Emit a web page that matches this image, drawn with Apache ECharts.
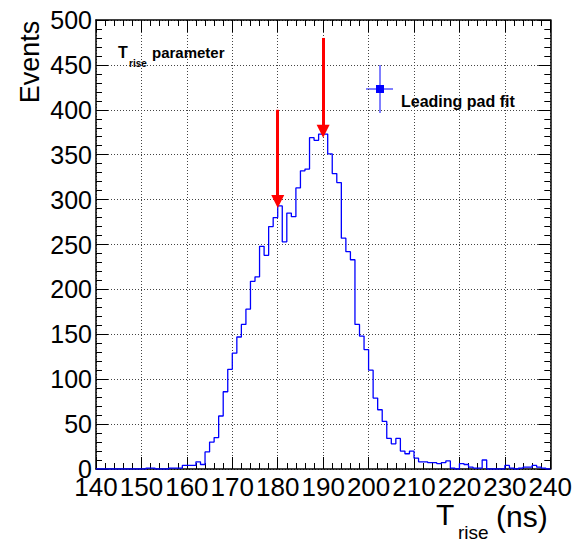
<!DOCTYPE html>
<html>
<head>
<meta charset="utf-8">
<script src="https://cdn.jsdelivr.net/npm/echarts@6/dist/echarts.min.js"></script>
<style>
html,body{margin:0;padding:0;background:#fff;}
#c{width:575px;height:542px;}
</style>
</head>
<body>
<div id="c"></div>
<script>
// ---- data ----
const binLow = 140;
const binWidth = 1;
const counts = [
  0,0,0,0,0,0,0,0,0,0,
  0,1,1,0,0,0,1,1,1,4,
  4,4,8,5,19,30,35,59,86,111,
  129,147,161,178,209,214,248,238,270,280,
  293,253,285,281,313,332,334,369,366,373,
  373,351,329,319,257,242,233,161,148,133,
  110,79,66,53,34,28,34,20,17,20,
  12,8,8,7,7,6,7,9,1,0,
  6,5,2,1,1,10,0,0,0,0,
  4,1,0,1,2,2,4,2,1,0
];
const arrowX = [180, 190];
const arrowTop = [400, 480];
const arrowTip = [298, 376];
const xTicks = [140,150,160,170,180,190,200,210,220,230,240];
const yTicks = [0,50,100,150,200,250,300,350,400,450,500];

const FONT = 'Liberation Sans, Arial, sans-serif';
const stepData = counts.map((c, i) => [binLow + i * binWidth, c]);
stepData.push([binLow + counts.length * binWidth, counts[counts.length - 1]]);

const chart = echarts.init(document.getElementById('c'), null, {renderer: 'svg'});

const gridLine = {show: true, lineStyle: {color: '#444', type: [1, 2], width: 1}};
const tickCommon = {show: true, inside: true, length: 12, lineStyle: {color: '#000', width: 1}};
const minorTick = {show: true, splitNumber: 5, length: 6, lineStyle: {color: '#000', width: 1}};

const markLines = arrowX.map((x, i) => ([
  {coord: [x, arrowTop[i]], symbol: 'none'},
  {coord: [x, arrowTip[i]], symbol: 'triangle'}
]));

chart.setOption({
  animation: false,
  backgroundColor: '#fff',
  grid: {left: 96, right: 23, top: 20, bottom: 73, containLabel: false},
  xAxis: [{
    type: 'value', min: xTicks[0], max: xTicks[xTicks.length - 1], interval: 10,
    position: 'bottom',
    axisLine: {show: true, onZero: false, lineStyle: {color: '#000', width: 1.5}},
    axisTick: tickCommon, minorTick: minorTick,
    splitLine: gridLine,
    axisLabel: {color: '#000', fontSize: 26, fontFamily: FONT, margin: 8, lineHeight: 20}
  }, {
    type: 'value', min: xTicks[0], max: xTicks[xTicks.length - 1], interval: 10,
    position: 'top',
    axisLine: {show: true, onZero: false, lineStyle: {color: '#000', width: 1.5}},
    axisTick: tickCommon, minorTick: minorTick,
    splitLine: {show: false}, axisLabel: {show: false}
  }],
  yAxis: [{
    type: 'value', min: yTicks[0], max: yTicks[yTicks.length - 1], interval: 50,
    position: 'left',
    axisLine: {show: true, onZero: false, lineStyle: {color: '#000', width: 1.5}},
    axisTick: tickCommon, minorTick: minorTick,
    splitLine: gridLine,
    axisLabel: {color: '#000', fontSize: 25, fontFamily: FONT, margin: 4, lineHeight: 16}
  }, {
    type: 'value', min: yTicks[0], max: yTicks[yTicks.length - 1], interval: 50,
    position: 'right',
    axisLine: {show: true, onZero: false, lineStyle: {color: '#000', width: 1.5}},
    axisTick: tickCommon, minorTick: minorTick,
    splitLine: {show: false}, axisLabel: {show: false}
  }],
  series: [{
    type: 'line',
    step: 'end',
    data: stepData,
    showSymbol: false,
    lineStyle: {color: '#0000ff', width: 1.3},
    z: 3,
    markLine: {
      silent: true,
      symbolSize: [13, 13],
      label: {show: false},
      lineStyle: {color: '#ff0000', width: 3, type: 'solid'},
      itemStyle: {color: '#ff0000'},
      data: markLines
    }
  }],
  graphic: [
    // y axis title
    {type: 'text', x: 30, y: 62, rotation: Math.PI / 2,
     style: {text: 'Events', font: '27px ' + FONT, fill: '#000', align: 'center', verticalAlign: 'middle'}},
    // x axis title
    {type: 'text', x: 436, y: 529,
     style: {text: 'T', font: '30px ' + FONT, fill: '#000', align: 'left', verticalAlign: 'bottom'}},
    {type: 'text', x: 458, y: 542,
     style: {text: 'rise', font: '19px ' + FONT, fill: '#000', align: 'left', verticalAlign: 'bottom'}},
    {type: 'text', x: 496, y: 531,
     style: {text: '(ns)', font: '30px ' + FONT, fill: '#000', align: 'left', verticalAlign: 'bottom'}},
    // pad title
    {type: 'text', x: 118, y: 60,
     style: {text: 'T', font: 'bold 16px ' + FONT, fill: '#000', align: 'left', verticalAlign: 'bottom'}},
    {type: 'text', x: 129, y: 68,
     style: {text: 'rise', font: 'bold 10px ' + FONT, fill: '#000', align: 'left', verticalAlign: 'bottom'}},
    {type: 'text', x: 152, y: 60,
     style: {text: 'parameter', font: 'bold 15px ' + FONT, fill: '#000', align: 'left', verticalAlign: 'bottom'}},
    // legend
    {type: 'line', shape: {x1: 366, y1: 89, x2: 393, y2: 89}, style: {stroke: '#0000ff', lineWidth: 1}},
    {type: 'line', shape: {x1: 380, y1: 65, x2: 380, y2: 113}, style: {stroke: '#0000ff', lineWidth: 1}},
    {type: 'rect', shape: {x: 376, y: 85, width: 8, height: 8}, style: {fill: '#0000ff'}},
    {type: 'text', x: 401, y: 101,
     style: {text: 'Leading pad fit', font: 'bold 16px ' + FONT, fill: '#000', align: 'left', verticalAlign: 'middle'}}
  ]
});
</script>
</body>
</html>
